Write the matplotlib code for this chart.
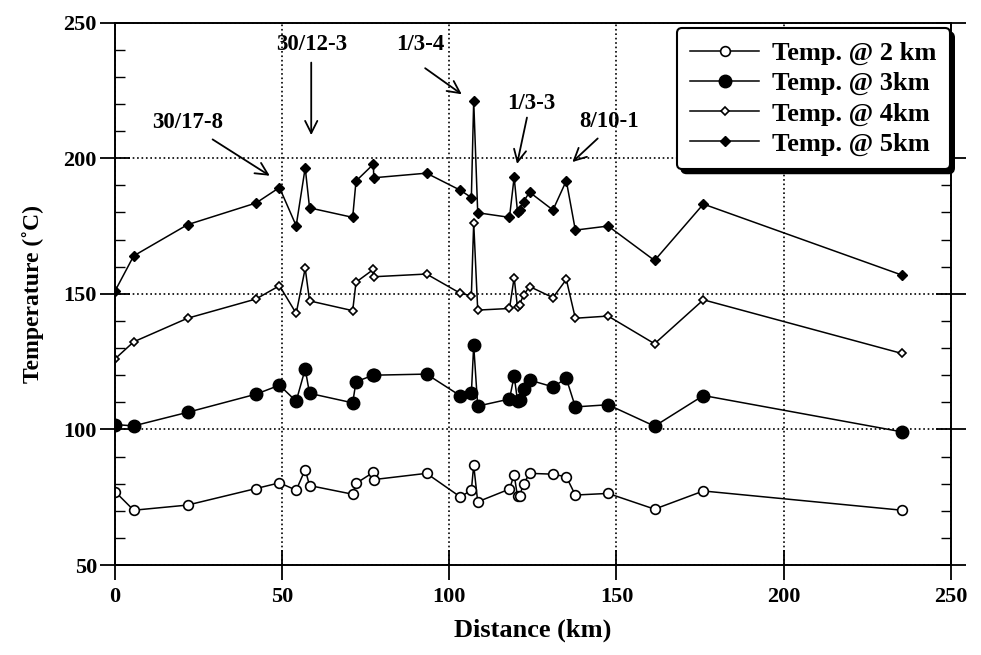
import matplotlib.pyplot as plt
from matplotlib.ticker import MultipleLocator

plt.rcParams['font.family'] = ['Liberation Serif', 'DejaVu Serif']
plt.rcParams['font.weight'] = 'bold'

# distancia de cada estación (km)
dist = [0, 5.6, 21.7, 42.2, 49.2, 54.2, 56.9, 58.2, 71.1, 72.1, 77.3, 77.4,
        93.2, 103.3, 106.6, 107.3, 108.5, 118.0, 119.4, 120.4, 121.0, 122.2,
        124.0, 131.0, 135.0, 137.7, 147.5, 161.4, 176.0, 235.4]

t2km = [77.1, 70.2, 72.1, 78.2, 80.3, 77.6, 85.2, 79.3, 76.1, 80.1, 84.2, 81.5,
        83.8, 75.1, 77.6, 86.8, 73.3, 78.0, 83.3, 75.3, 75.5, 79.8,
        83.8, 83.5, 82.5, 75.8, 76.4, 70.6, 77.3, 70.2]
t3km = [101.8, 101.3, 106.3, 113.0, 116.3, 110.4, 122.3, 113.3, 109.8, 117.6, 120.0, 120.0,
        120.4, 112.4, 113.4, 131.0, 108.6, 111.2, 119.7, 110.6, 110.8, 114.8,
        118.2, 115.7, 118.8, 108.3, 109.1, 101.2, 112.5, 99.1]
t4km = [126.0, 132.3, 141.0, 148.1, 153.0, 142.8, 159.4, 147.4, 143.8, 154.3, 159.0, 156.3,
        157.3, 150.2, 149.3, 176.2, 144.0, 144.6, 156.0, 145.0, 146.0, 149.5,
        152.7, 148.6, 155.3, 141.0, 141.8, 131.6, 147.8, 128.0]
t5km = [151.0, 164.0, 175.5, 183.5, 189.2, 175.1, 196.5, 181.7, 178.2, 191.6, 197.8, 192.8,
        194.5, 188.2, 185.5, 221.2, 179.9, 178.2, 193.0, 180.3, 181.0, 184.0,
        187.5, 180.9, 191.7, 173.5, 175.0, 162.3, 183.1, 156.9]

# etiquetas de las flechas: (texto, posición del texto, inicio flecha, punta flecha)
etiquetas = ['30/17-8', '30/12-3', '1/3-4', '1/3-3', '8/10-1']
pos_texto = [(21.6, 213), (58.7, 241.8), (91.3, 241.8), (124.6, 220.3), (147.9, 213.5)]
cola = [(28.5, 207.5), (58.7, 236.3), (92.1, 233.8), (123.4, 216), (145, 208)]
punta = [(47, 193), (58.7, 207.5), (104.4, 223), (120.1, 196.9), (136.2, 197.9)]

fig = plt.figure(figsize=(9.81, 6.55), dpi=100)
ax = fig.add_axes([0.1172, 0.1374, 0.852, 0.828])

ax.plot(dist, t2km, 'o-', color='k', mfc='white', mec='k', ms=7, lw=1.1, mew=1.2, label='Temp. @ 2 km')
ax.plot(dist, t3km, 'o-', color='k', ms=9, lw=1.1, label='Temp. @ 3km')
ax.plot(dist, t4km, 'D-', color='k', mfc='white', mec='k', ms=4.5, lw=1.1, mew=1.2, label='Temp. @ 4km')
ax.plot(dist, t5km, 'D-', color='k', ms=5.5, lw=1.1, label='Temp. @ 5km')

for txt, pt, c, p in zip(etiquetas, pos_texto, cola, punta):
    ax.text(pt[0], pt[1], txt, ha='center', va='center', fontsize=16.5, fontweight='bold')
    ax.annotate('', xy=p, xytext=c,
                arrowprops=dict(arrowstyle='->', color='k', lw=1.3, mutation_scale=22))

ax.set_xlim(0, 250)
ax.set_ylim(50, 250)
ax.set_xticks([0, 50, 100, 150, 200, 250])
ax.set_yticks([50, 100, 150, 200, 250])
ax.yaxis.set_minor_locator(MultipleLocator(10))
ax.tick_params(axis='both', which='major', direction='inout', length=22, width=1.3,
               labelsize=16, right=True)
ax.tick_params(axis='y', which='minor', direction='in', length=7, width=1, right=True)
ax.tick_params(axis='x', which='major', pad=5)
ax.tick_params(axis='y', which='major', pad=2)
for lbl in ax.get_xticklabels() + ax.get_yticklabels():
    lbl.set_fontweight('bold')
for s in ax.spines.values():
    s.set_linewidth(1.4)

ax.grid(True, which='major', linestyle=':', color='k', lw=1.2)

ax.set_xlabel('Distance (km)', fontsize=19, fontweight='bold', labelpad=8)
ax.set_ylabel('Temperature (˚C)', fontsize=17, fontweight='bold', labelpad=14)

leg = ax.legend(loc='upper right', fontsize=19, handlelength=2.6, handletextpad=0.5,
                frameon=True, fancybox=True,
                shadow={'color': 'k', 'alpha': 1, 'ox': 3, 'oy': -3},
                borderpad=0.5, labelspacing=0.25, borderaxespad=0,
                bbox_to_anchor=(0.9988, 0.990))
leg.get_frame().set_edgecolor('k')
leg.get_frame().set_linewidth(1.5)
leg.get_frame().set_alpha(1)

plt.savefig('out.png', dpi=100)
